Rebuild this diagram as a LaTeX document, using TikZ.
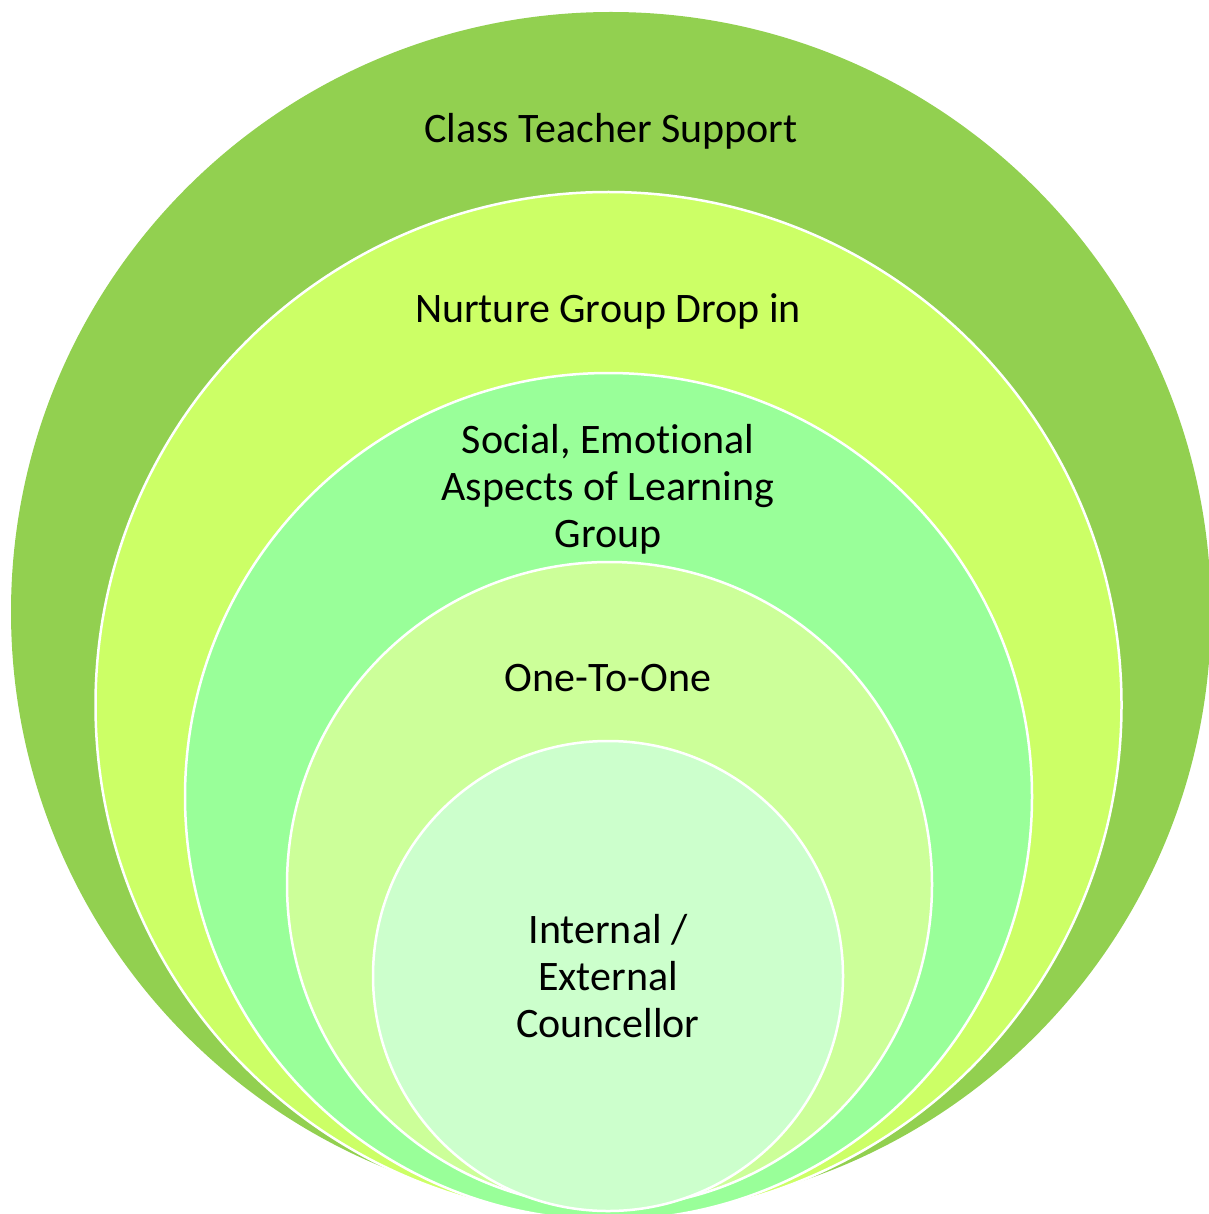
\documentclass[tikz,border=0pt]{standalone}
\usepackage{fontspec}
\setmainfont[Ligatures={NoCommon}]{Carlito}
\definecolor{cOne}{HTML}{92D050}
\definecolor{cTwo}{HTML}{CCFF66}
\definecolor{cThree}{HTML}{99FF99}
\definecolor{cFour}{HTML}{CCFF99}
\definecolor{cFive}{HTML}{CCFFCC}
\tikzset{
  ring/.style={circle, inner sep=0pt, outer sep=0pt, draw=white, line width=2.5pt},
  lbl/.style={anchor=base, align=center, inner sep=0pt, font=\fontsize{42}{47}\selectfont, text=black}
}
\begin{document}
\begin{tikzpicture}[x=1pt,y=-1pt]
\fill[white] (0,0) rectangle (1208,1214);
\useasboundingbox (0,0) rectangle (1208,1214);
\node[circle, inner sep=0pt, fill=cOne, minimum size=1200pt] (c1) at (611,612) {};
\node[ring, fill=cTwo, minimum size=1026pt] (c2) at (608.5,705) {};
\node[ring, fill=cThree, minimum size=847pt] (c3) at (608.5,796.5) {};
\node[ring, fill=cFour, minimum size=645pt] (c4) at (609.5,884.5) {};
\node[ring, fill=cFive, minimum size=470pt] (c5) at (608,976) {};
\node[lbl] (t1) at (611,143) {Class Teacher Support};
\node[lbl] (t2) at (608,323) {Nurture Group Drop in};
\node[lbl] (t3) at (608,547) {Social, Emotional\\Aspects of Learning\\Group};
\node[lbl] (t4) at (608,691) {One-To-One};
\node[lbl] (t5) at (608,1037) {Internal /\\External\\Councellor};
\end{tikzpicture}
\end{document}
